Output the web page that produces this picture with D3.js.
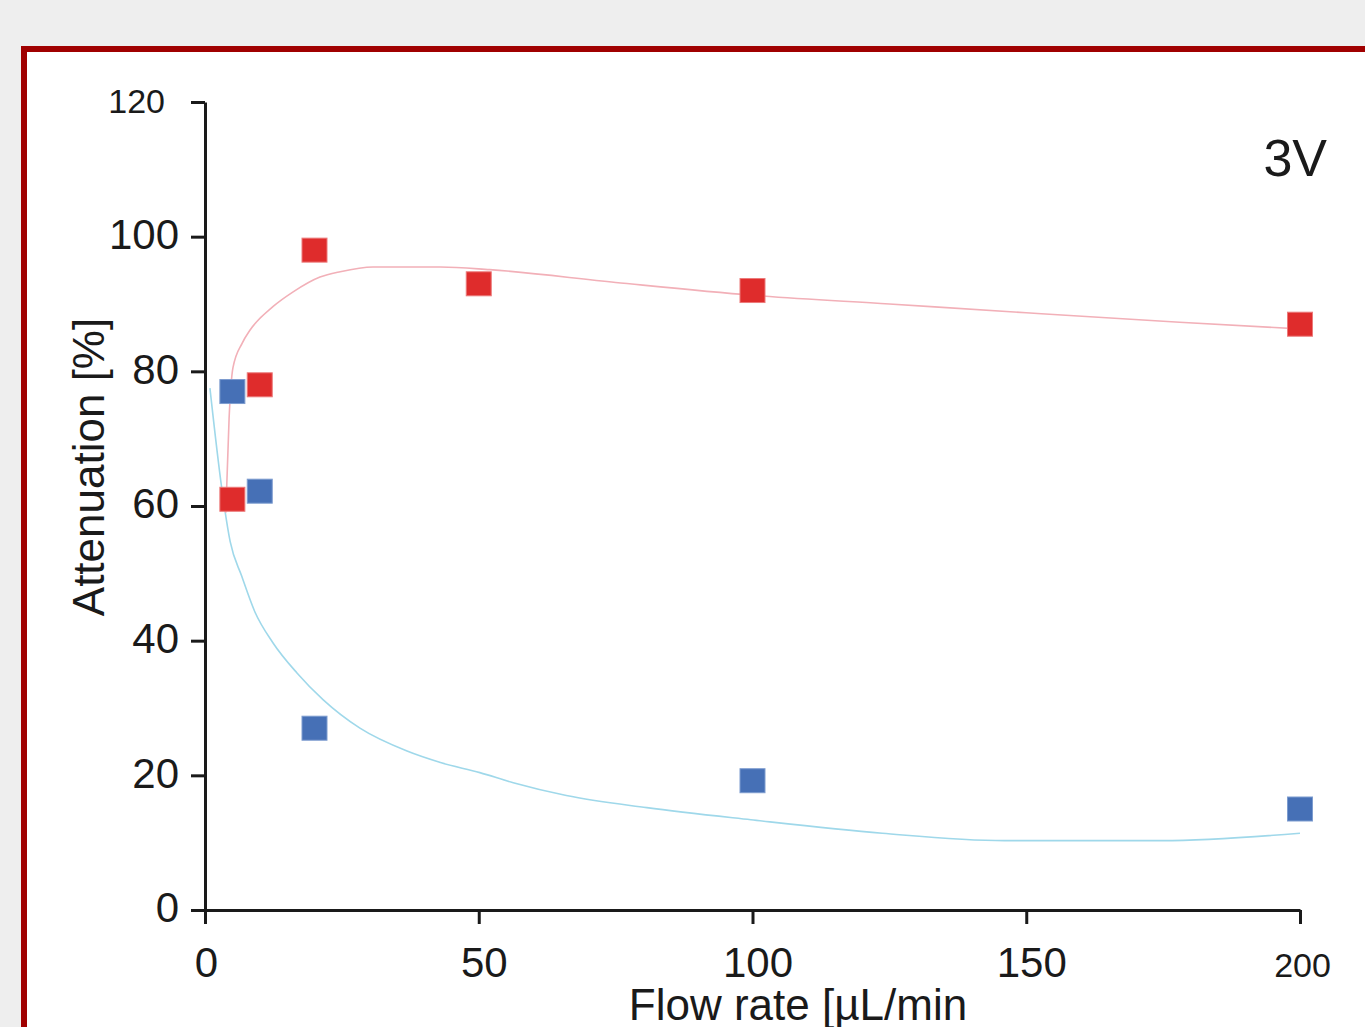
<!DOCTYPE html>
<html>
<head>
<meta charset="utf-8">
<script src="https://cdn.jsdelivr.net/npm/d3@7"></script>
<style>
  body { margin: 0; background: #eeeeee; overflow: hidden; }
  svg { display: block; font-family: "Liberation Sans", Arial, sans-serif; }
</style>
</head>
<body>
<div id="chart"></div>
<script>
// measured points (flow rate in uL/min, attenuation in %)
var flowRed = [5, 10, 20, 50, 100, 200];
var attRed = [61, 78, 98, 93, 92, 87];
var flowBlue = [5, 10, 20, 100, 200];
var attBlue = [77, 62.2, 27, 19.2, 15];

// fitted curves
var fitRedX = [3.8, 4.4, 5.1, 6.8, 8.2, 12.4, 16.1, 21, 24.7, 30.7, 43, 52, 75, 100, 125, 150, 178, 200];
var fitRedY = [59, 73, 80.5, 84.2, 86.1, 89.6, 91.8, 94, 94.8, 95.5, 95.5, 95.1, 93.2, 91.3, 90, 88.7, 87.3, 86.3];
var fitBlueX = [0.9, 3.1, 4.6, 6.7, 9.1, 12.4, 16.8, 21.6, 28.3, 36.9, 43, 50.2, 56.3, 66, 80.7, 99.7, 123.7, 146, 174.8, 200];
var fitBlueY = [77.5, 62.4, 54.7, 49.6, 44.3, 39.7, 35.2, 31.2, 27, 23.6, 21.9, 20.4, 18.9, 17, 15.2, 13.4, 11.4, 10.3, 10.3, 11.4];

var xTicks = [0, 50, 100, 150, 200];
var yTicks = [0, 20, 40, 60, 80, 100, 120];
var smallTicks = [120, 200]; // these two are printed smaller in the source

var W = 1365, H = 1027;
var margin = {top: 102, left: 205},
  width = 1300 - margin.left,
  height = 910 - margin.top;

var svg = d3.select('#chart').append('svg')
  .attr('width', W).attr('height', H);

// gray page + dark red frame
svg.append('rect').attr('width', W).attr('height', H).attr('fill', '#eeeeee');
svg.append('rect')
  .attr('x', 24).attr('y', 49)
  .attr('width', 1500).attr('height', 1200)
  .attr('fill', '#ffffff')
  .attr('stroke', '#a00000').attr('stroke-width', 6);

var g = svg.append('g')
  .attr('transform', 'translate(' + margin.left + ',' + margin.top + ')');

var x = d3.scaleLinear().domain([0, 200]).range([0, width]);
var y = d3.scaleLinear().domain([0, 120]).range([height, 0]);

var xAxis = d3.axisBottom(x).tickValues(xTicks).tickSize(14).tickSizeOuter(0);
var yAxis = d3.axisLeft(y).tickValues(yTicks).tickSize(14).tickSizeOuter(0);

var gx = g.append('g')
  .attr('transform', 'translate(0,' + height + ')')
  .call(xAxis);
var gy = g.append('g').call(yAxis);

[gx, gy].forEach(function (a) {
  a.selectAll('path, line').attr('stroke', '#1a1a1a').attr('stroke-width', 3);
  a.selectAll('text')
    .attr('fill', '#1a1a1a')
    .style('font-family', '"Liberation Sans", Arial, sans-serif')
    .style('font-size', function (d) { return smallTicks.indexOf(d) >= 0 ? '34px' : '42px'; });
});

gx.selectAll('text')
  .attr('y', 67).attr('dy', 0)
  .attr('dx', function (d) { return d == 0 ? 1 : (d == 200 ? 2 : 5); });

gy.selectAll('text')
  .attr('x', function (d) { return d == 120 ? -40 : -26; })
  .attr('dy', function (d) { return d == 120 ? '0.30em' : '0.28em'; });

// fitted lines
var line = d3.line()
  .x(function (d) { return x(d[0]); })
  .y(function (d) { return y(d[1]); })
  .curve(d3.curveMonotoneX);

g.append('path')
  .datum(d3.zip(fitBlueX, fitBlueY))
  .attr('d', line)
  .attr('fill', 'none')
  .attr('stroke', '#9fd8ea')
  .attr('stroke-width', 1.6);

g.append('path')
  .datum(d3.zip(fitRedX, fitRedY))
  .attr('d', line)
  .attr('fill', 'none')
  .attr('stroke', '#f2b0b8')
  .attr('stroke-width', 1.6);

// square markers
var sz = 25;
function squares (xs, ys, fill, stroke) {
  g.append('g').selectAll('rect')
    .data(d3.zip(xs, ys)).enter()
    .append('rect')
    .attr('x', function (d) { return x(d[0]) - sz / 2; })
    .attr('y', function (d) { return y(d[1]) - 12; })
    .attr('width', sz).attr('height', 24)
    .attr('fill', fill)
    .attr('stroke', stroke).attr('stroke-width', 1);
}
squares(flowBlue, attBlue, '#4670b6', '#7d9ccf');
squares(flowRed, attRed, '#df2c2c', '#ec7a7a');

// axis titles
svg.append('text')
  .attr('transform', 'translate(104,467) rotate(-90)')
  .attr('text-anchor', 'middle')
  .attr('fill', '#1a1a1a')
  .style('font-size', '44px')
  .text('Attenuation [%]');

svg.append('text')
  .attr('x', 798).attr('y', 1020)
  .attr('text-anchor', 'middle')
  .attr('fill', '#1a1a1a')
  .style('font-size', '44px')
  .text('Flow rate [µL/min');

svg.append('text')
  .attr('x', 1327).attr('y', 176)
  .attr('text-anchor', 'end')
  .attr('fill', '#1a1a1a')
  .style('font-size', '52px')
  .text('3V');
</script>
</body>
</html>
